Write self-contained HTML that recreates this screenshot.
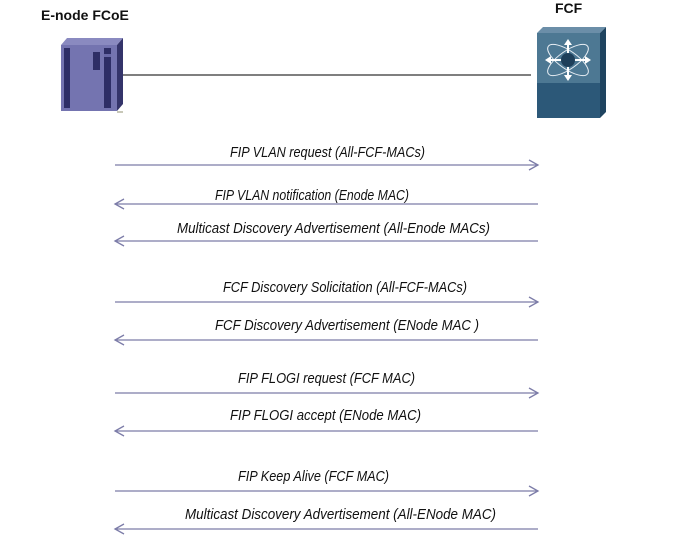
<!DOCTYPE html>
<html><head><meta charset="utf-8"><style>
html,body{margin:0;padding:0;background:#fff;}
svg{display:block;}
</style></head><body>
<svg width="682" height="537" viewBox="0 0 682 537" xmlns="http://www.w3.org/2000/svg">
<text x="41" y="20" font-family="Liberation Sans, sans-serif" font-weight="bold" font-size="14" fill="#111">E-node FCoE</text>
<text x="555" y="13" font-family="Liberation Sans, sans-serif" font-weight="bold" font-size="14" fill="#111">FCF</text>
<line x1="121" y1="75" x2="531" y2="75" stroke="#333" stroke-width="1.3"/>
<!-- server -->
<polygon points="61,45 67,38 123,38 117,45" fill="#8a8ac0"/>
<polygon points="117,45 123,38 123,104 117,111" fill="#34346a"/>
<rect x="61" y="45" width="56" height="66" fill="#7474b0"/>
<rect x="64" y="48" width="6" height="60" fill="#2e2e66"/>
<rect x="104" y="48" width="7" height="60" fill="#2e2e66"/>
<rect x="93" y="52" width="7" height="18" fill="#2e2e66"/>
<rect x="104" y="54" width="7" height="3" fill="#6a6aa8"/>
<rect x="117" y="111" width="6" height="2" fill="#c8c8b8"/>
<!-- FCF -->
<polygon points="537,33 543,27 606,27 600,33" fill="#6b8ea8"/>
<polygon points="600,33 606,27 606,112 600,118" fill="#1f4460"/>
<rect x="537" y="33" width="63" height="50" fill="#4d7893"/>
<rect x="537" y="83" width="63" height="35" fill="#2c5878"/>
<g stroke="#e8eef4" stroke-width="1" fill="none">
<ellipse cx="568" cy="60" rx="24" ry="9" transform="rotate(35 568 60)"/>
<ellipse cx="568" cy="60" rx="24" ry="9" transform="rotate(-35 568 60)"/>
</g>
<g fill="#fff">
<polygon points="568,39 564,45 572,45"/><polygon points="568,81 564,75 572,75"/>
<polygon points="545,60 551,56 551,64"/><polygon points="591,60 585,56 585,64"/>
</g>
<g stroke="#fff" stroke-width="2"><line x1="568" y1="44" x2="568" y2="76"/><line x1="550" y1="60" x2="586" y2="60"/></g>
<circle cx="568" cy="60" r="7" fill="#1e3f5a"/>
<!-- arrows -->
<g stroke="#7c7ca8" stroke-width="1.3" fill="none">
<line x1="115" y1="165" x2="538" y2="165"/><polyline points="529,160 538,165 529,170"/>
<line x1="115" y1="204" x2="538" y2="204"/><polyline points="124,199 115,204 124,209"/>
<line x1="115" y1="241" x2="538" y2="241"/><polyline points="124,236 115,241 124,246"/>
<line x1="115" y1="302" x2="538" y2="302"/><polyline points="529,297 538,302 529,307"/>
<line x1="115" y1="340" x2="538" y2="340"/><polyline points="124,335 115,340 124,345"/>
<line x1="115" y1="393" x2="538" y2="393"/><polyline points="529,388 538,393 529,398"/>
<line x1="115" y1="431" x2="538" y2="431"/><polyline points="124,426 115,431 124,436"/>
<line x1="115" y1="491" x2="538" y2="491"/><polyline points="529,486 538,491 529,496"/>
<line x1="115" y1="529" x2="538" y2="529"/><polyline points="124,524 115,529 124,534"/>
</g>
<g font-family="Liberation Sans, sans-serif" font-style="italic" font-size="14.5" fill="#111">
<text x="230" y="157" textLength="195" lengthAdjust="spacingAndGlyphs">FIP VLAN request (All-FCF-MACs)</text>
<text x="215" y="200" textLength="194" lengthAdjust="spacingAndGlyphs">FIP VLAN notification (Enode MAC)</text>
<text x="177" y="233" textLength="313" lengthAdjust="spacingAndGlyphs">Multicast Discovery Advertisement (All-Enode MACs)</text>
<text x="223" y="292" textLength="244" lengthAdjust="spacingAndGlyphs">FCF Discovery Solicitation (All-FCF-MACs)</text>
<text x="215" y="330" textLength="264" lengthAdjust="spacingAndGlyphs">FCF Discovery Advertisement (ENode MAC )</text>
<text x="238" y="383" textLength="177" lengthAdjust="spacingAndGlyphs">FIP FLOGI request (FCF MAC)</text>
<text x="230" y="420" textLength="191" lengthAdjust="spacingAndGlyphs">FIP FLOGI accept (ENode MAC)</text>
<text x="238" y="481" textLength="151" lengthAdjust="spacingAndGlyphs">FIP Keep Alive (FCF MAC)</text>
<text x="185" y="519" textLength="311" lengthAdjust="spacingAndGlyphs">Multicast Discovery Advertisement (All-ENode MAC)</text>
</g>
</svg>
</body></html>
